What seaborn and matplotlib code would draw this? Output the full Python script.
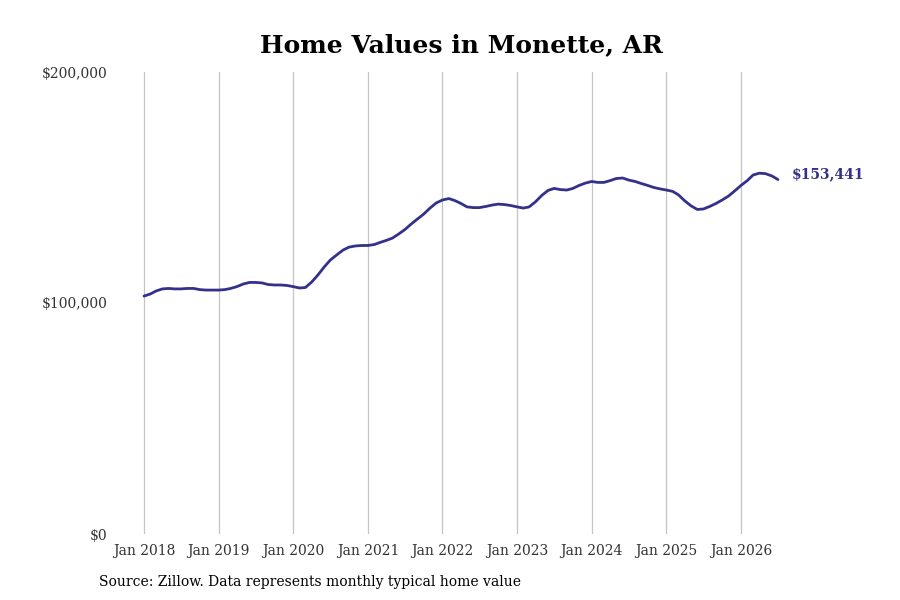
import numpy as np
import pandas as pd
import matplotlib
matplotlib.use("Agg")
import matplotlib.pyplot as plt
import matplotlib.dates as mdates
import seaborn as sns

# ---- data ----
start_month = "2018-01-01"
values = [
    103000, 103900, 105200, 106100, 106300, 106100, 106100, 106300, 106300, 105800, 105600, 105600,  # 2018
    105600, 105800, 106300, 107100, 108200, 108900, 108900, 108700, 108000, 107800, 107800, 107600,  # 2019
    107100, 106500, 106700, 109100, 112100, 115600, 118600, 120800, 122900, 124200, 124700, 124900,  # 2020
    124900, 125300, 126200, 127100, 128100, 129900, 131800, 134200, 136400, 138500, 141100, 143300,  # 2021
    144600, 145200, 144400, 143100, 141600, 141300, 141300, 141800, 142400, 142800, 142600, 142200,  # 2022
    141600, 141100, 141600, 143800, 146500, 148700, 149600, 149100, 148900, 149600, 150900, 151900,  # 2023
    152600, 152200, 152200, 153000, 153900, 154100, 153200, 152600, 151700, 150900, 150000, 149400,  # 2024
    148900, 148300, 146800, 144200, 142100, 140500, 140700, 141800, 143100, 144600, 146300, 148500,  # 2025
    150900, 153000, 155400, 156200, 156000, 155000, 153441,                                          # 2026
]
dates = pd.date_range(start_month, periods=len(values), freq="MS")
y_ticks = [0, 100000, 200000]
y_tick_labels = ["$0", "$100,000", "$200,000"]
tick_years = list(range(2018, 2027))
title = "Home Values in Monette, AR"
source = "Source: Zillow. Data represents monthly typical home value"
end_label = "$153,441"

df = pd.DataFrame({"date": dates, "value": values})

# ---- style ----
sns.set_theme(style="white")
plt.rcParams["font.family"] = ["DejaVu Serif"]

line_color = "#33318a"
text_color = "#333333"

fig = plt.figure(figsize=(9, 6), dpi=100)
ax_left, ax_right, ax_top, ax_bottom = 112.5, 783, 72, 534
ax = fig.add_axes([ax_left / 900, 1 - ax_bottom / 600,
                   (ax_right - ax_left) / 900, (ax_bottom - ax_top) / 600])

sns.lineplot(data=df, x="date", y="value", ax=ax, color=line_color, linewidth=2.0)

# x axis: anchor Jan 2018 -> 144px, Jan 2026 -> 741px
d0 = mdates.date2num(pd.Timestamp("2018-01-01"))
d1 = mdates.date2num(pd.Timestamp("2026-01-01"))
slope = (741 - 144) / (d1 - d0)
ax.set_xlim(d0 + (ax_left - 144) / slope, d0 + (ax_right - 144) / slope)
ax.set_ylim(0, 200000)

ax.set_xticks([pd.Timestamp(f"{y}-01-01") for y in tick_years])
ax.xaxis.set_major_formatter(mdates.DateFormatter("%b %Y"))
ax.set_yticks(y_ticks)
ax.set_yticklabels(y_tick_labels)

ax.grid(axis="x", color="#c4c4c4", linewidth=0.9)
ax.grid(axis="y", visible=False)
for s in ax.spines.values():
    s.set_visible(False)
ax.tick_params(axis="both", length=0, labelsize=10, labelcolor=text_color)
ax.tick_params(axis="x", pad=7)
ax.tick_params(axis="y", pad=3.5)
ax.set_xlabel("")
ax.set_ylabel("")

ax.annotate(end_label, xy=(df["date"].iloc[-1], df["value"].iloc[-1]),
            xytext=(14, 5), textcoords="offset pixels",
            ha="left", va="center", fontsize=10, fontweight="bold",
            color=line_color)

fig.text(461 / 900, 1 - 45 / 600, title, ha="center", va="center",
         fontsize=18, fontweight="bold", color="black")
fig.text(99 / 900, 1 - 582 / 600, source, ha="left", va="center",
         fontsize=10, color="black")

fig.savefig("out.png", dpi=100)
